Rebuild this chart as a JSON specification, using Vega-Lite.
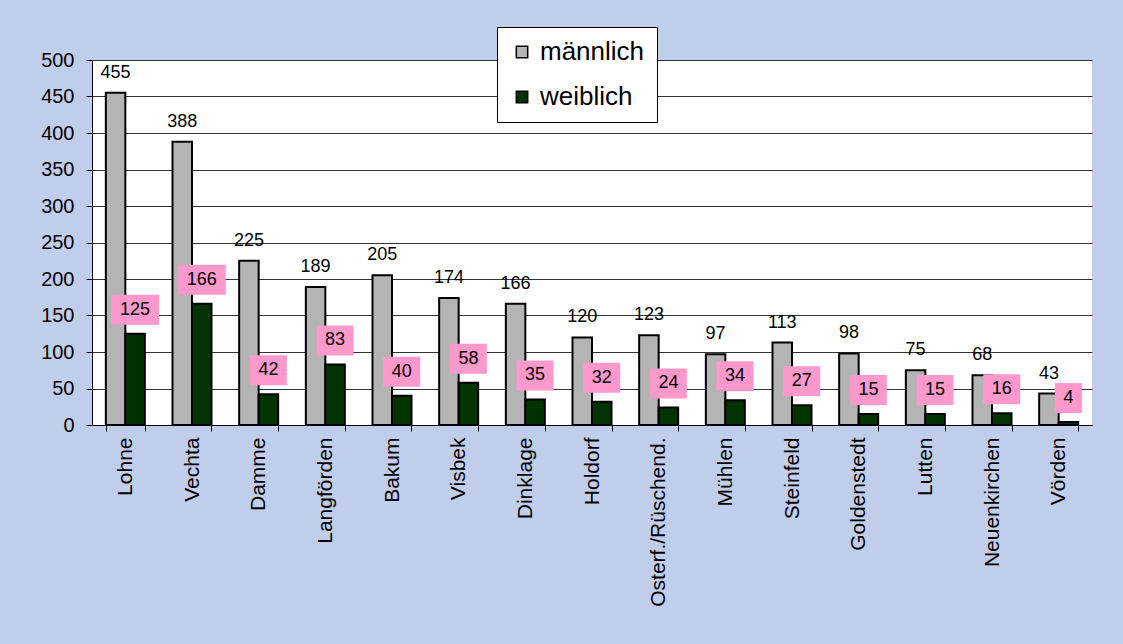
{
  "$schema": "https://vega.github.io/schema/vega-lite/v6.json",
  "width": 1000,
  "height": 365,
  "autosize": {"type": "none"},
  "padding": {"left": 92, "top": 60, "right": 31, "bottom": 219},
  "background": "#C0CEEC",
  "config": {
    "font": "Liberation Sans",
    "view": {"fill": "white", "stroke": null}
  },
  "data": {
    "values": [
      {"ort": "Lohne", "geschlecht": "männlich", "anzahl": 455},
      {"ort": "Lohne", "geschlecht": "weiblich", "anzahl": 125},
      {"ort": "Vechta", "geschlecht": "männlich", "anzahl": 388},
      {"ort": "Vechta", "geschlecht": "weiblich", "anzahl": 166},
      {"ort": "Damme", "geschlecht": "männlich", "anzahl": 225},
      {"ort": "Damme", "geschlecht": "weiblich", "anzahl": 42},
      {"ort": "Langförden", "geschlecht": "männlich", "anzahl": 189},
      {"ort": "Langförden", "geschlecht": "weiblich", "anzahl": 83},
      {"ort": "Bakum", "geschlecht": "männlich", "anzahl": 205},
      {"ort": "Bakum", "geschlecht": "weiblich", "anzahl": 40},
      {"ort": "Visbek", "geschlecht": "männlich", "anzahl": 174},
      {"ort": "Visbek", "geschlecht": "weiblich", "anzahl": 58},
      {"ort": "Dinklage", "geschlecht": "männlich", "anzahl": 166},
      {"ort": "Dinklage", "geschlecht": "weiblich", "anzahl": 35},
      {"ort": "Holdorf", "geschlecht": "männlich", "anzahl": 120},
      {"ort": "Holdorf", "geschlecht": "weiblich", "anzahl": 32},
      {"ort": "Osterf./Rüschend.", "geschlecht": "männlich", "anzahl": 123},
      {"ort": "Osterf./Rüschend.", "geschlecht": "weiblich", "anzahl": 24},
      {"ort": "Mühlen", "geschlecht": "männlich", "anzahl": 97},
      {"ort": "Mühlen", "geschlecht": "weiblich", "anzahl": 34},
      {"ort": "Steinfeld", "geschlecht": "männlich", "anzahl": 113},
      {"ort": "Steinfeld", "geschlecht": "weiblich", "anzahl": 27},
      {"ort": "Goldenstedt", "geschlecht": "männlich", "anzahl": 98},
      {"ort": "Goldenstedt", "geschlecht": "weiblich", "anzahl": 15},
      {"ort": "Lutten", "geschlecht": "männlich", "anzahl": 75},
      {"ort": "Lutten", "geschlecht": "weiblich", "anzahl": 15},
      {"ort": "Neuenkirchen", "geschlecht": "männlich", "anzahl": 68},
      {"ort": "Neuenkirchen", "geschlecht": "weiblich", "anzahl": 16},
      {"ort": "Vörden", "geschlecht": "männlich", "anzahl": 43},
      {"ort": "Vörden", "geschlecht": "weiblich", "anzahl": 4}
    ]
  },
  "encoding": {
    "x": {
      "field": "ort",
      "type": "nominal",
      "sort": null,
      "scale": {"paddingInner": 0.415, "paddingOuter": 0.2075},
      "axis": {
        "title": null,
        "labelAngle": -90,
        "labelFontSize": 21,
        "labelColor": "black",
        "labelPadding": 6,
        "tickBand": "extent",
        "tickSize": 6,
        "tickColor": "black",
        "domainColor": "black",
        "grid": false
      }
    },
    "xOffset": {
      "field": "geschlecht",
      "type": "nominal",
      "scale": {"domain": ["männlich", "weiblich"], "paddingInner": 0, "paddingOuter": 0}
    },
    "y": {
      "field": "anzahl",
      "type": "quantitative",
      "scale": {"domain": [0, 500], "nice": false},
      "axis": {
        "title": null,
        "values": [0, 50, 100, 150, 200, 250, 300, 350, 400, 450, 500],
        "labelFontSize": 20,
        "labelColor": "black",
        "labelPadding": 12,
        "tickSize": 6,
        "tickColor": "black",
        "domainColor": "black",
        "grid": true,
        "gridColor": "#333333",
        "gridWidth": 1
      }
    }
  },
  "layer": [
    {
      "mark": {"type": "bar", "stroke": "black", "strokeWidth": 2},
      "encoding": {
        "color": {
          "field": "geschlecht",
          "type": "nominal",
          "scale": {"domain": ["männlich", "weiblich"], "range": ["#B4B4B4", "#003300"]},
          "legend": {
            "title": null,
            "orient": "none",
            "legendX": 405,
            "legendY": -33,
            "fillColor": "white",
            "strokeColor": "black",
            "padding": 12,
            "symbolType": "square",
            "symbolSize": 130,
            "symbolStrokeColor": "black",
            "symbolStrokeWidth": 1.5,
            "labelFontSize": 26,
            "labelColor": "black",
            "labelOffset": 5,
            "rowPadding": 19
          }
        }
      }
    },
    {
      "transform": [{"filter": "datum.geschlecht == 'männlich'"}],
      "mark": {"type": "text", "fontSize": 18, "color": "black", "baseline": "alphabetic", "dy": -15},
      "encoding": {"text": {"field": "anzahl", "type": "quantitative"}}
    },
    {
      "transform": [{"filter": "datum.geschlecht == 'weiblich'"}],
      "mark": {"type": "point", "filled": true, "color": "#FF99CC", "opacity": 1, "strokeWidth": 0, "size": 900, "yOffset": -24},
      "encoding": {
        "shape": {
          "condition": [
            {"test": "datum.anzahl >= 100", "value": "M-1.6,-1L1.6,-1L1.6,1L-1.6,1Z"},
            {"test": "datum.anzahl >= 10", "value": "M-1.23,-1L1.23,-1L1.23,1L-1.23,1Z"}
          ],
          "value": "M-0.9,-1L0.9,-1L0.9,1L-0.9,1Z"
        }
      }
    },
    {
      "transform": [{"filter": "datum.geschlecht == 'weiblich'"}],
      "mark": {"type": "text", "fontSize": 18, "color": "black", "baseline": "middle", "dy": -24},
      "encoding": {"text": {"field": "anzahl", "type": "quantitative"}}
    }
  ]
}
